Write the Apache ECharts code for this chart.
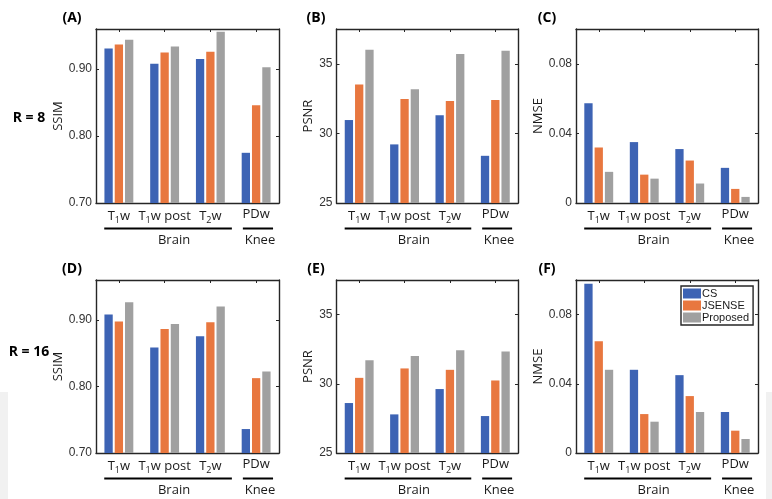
<!DOCTYPE html>
<html>
<head>
<meta charset="utf-8">
<script src="https://cdn.jsdelivr.net/npm/echarts@6/dist/echarts.min.js"></script>
<style>
html,body{margin:0;padding:0;background:#fff;}
#c{width:772px;height:499px;}
</style>
</head>
<body>
<div id="c"></div>
<script>
// ---------- data ----------
const categories = ['T1w', 'T1w post', 'T2w', 'PDw'];
const seriesNames = ['CS', 'JSENSE', 'Proposed'];
const groupLabels = ['Brain', 'Knee'];
const panelLabels = ['(A)', '(B)', '(C)', '(D)', '(E)', '(F)'];
const rowLabels = ['R = 8', 'R = 16'];
const metricNames = ['SSIM', 'PSNR', 'NMSE'];

const ssim8_cs = [0.931, 0.908, 0.915, 0.775];
const ssim8_js = [0.937, 0.925, 0.926, 0.846];
const ssim8_pr = [0.944, 0.934, 0.956, 0.903];
const psnr8_cs = [30.96, 29.21, 31.30, 28.39];
const psnr8_js = [33.51, 32.48, 32.33, 32.40];
const psnr8_pr = [36.01, 33.17, 35.70, 35.94];
const nmse8_cs = [0.0573, 0.0350, 0.0310, 0.0202];
const nmse8_js = [0.0319, 0.0163, 0.0244, 0.0081];
const nmse8_pr = [0.0179, 0.0140, 0.0112, 0.0035];

const ssim16_cs = [0.908, 0.8585, 0.8755, 0.736];
const ssim16_js = [0.8975, 0.8865, 0.8965, 0.8125];
const ssim16_pr = [0.9265, 0.894, 0.920, 0.8225];
const psnr16_cs = [28.61, 27.79, 29.62, 27.67];
const psnr16_js = [30.43, 31.11, 31.01, 30.24];
const psnr16_pr = [31.71, 32.00, 32.43, 32.33];
const nmse16_cs = [0.0979, 0.0481, 0.0450, 0.0237];
const nmse16_js = [0.0646, 0.0225, 0.0329, 0.0129];
const nmse16_pr = [0.0481, 0.0181, 0.0237, 0.0081];

// ---------- styling ----------
const colors = ['#3d63b4', '#e8773f', '#a0a0a0'];
const axisColor = '#262626';
const labelFont = 'Open Sans';
const numFont = 'Liberation Sans';

const panels = [
  {data: [ssim8_cs, ssim8_js, ssim8_pr], min: 0.70, max: 0.96, interval: 0.1, dec: 2, name: metricNames[0], gap: 30},
  {data: [psnr8_cs, psnr8_js, psnr8_pr], min: 25, max: 37.5, interval: 5, dec: 0, name: metricNames[1], gap: 20},
  {data: [nmse8_cs, nmse8_js, nmse8_pr], min: 0, max: 0.1, interval: 0.04, dec: 2, name: metricNames[2], gap: 27},
  {data: [ssim16_cs, ssim16_js, ssim16_pr], min: 0.70, max: 0.96, interval: 0.1, dec: 2, name: metricNames[0], gap: 30},
  {data: [psnr16_cs, psnr16_js, psnr16_pr], min: 25, max: 37.5, interval: 5, dec: 0, name: metricNames[1], gap: 20},
  {data: [nmse16_cs, nmse16_js, nmse16_pr], min: 0, max: 0.1, interval: 0.04, dec: 2, name: metricNames[2], gap: 27}
];
const colLeft = [96, 336.5, 576];
const colWidth = [183, 181.5, 182];
const rowTop = [29, 280];
const rowHeight = [174, 173];

const grids = [], xAxes = [], yAxes = [], series = [];
function fmtCat(v) {
  const m = v.match(/^T(\d)(.*)$/);
  if (m) return '{n|T}{s|' + m[1] + '}{n|' + m[2] + '}';
  return '{n|' + v + '}';
}
panels.forEach((p, i) => {
  const r = Math.floor(i / 3), c = i % 3;
  grids.push({left: colLeft[c], top: rowTop[r], width: colWidth[c], height: rowHeight[r]});
  const lineStyle = {color: axisColor, width: 1.4};
  xAxes.push({
    type: 'category', gridIndex: i, data: categories, position: 'bottom',
    axisLine: {show: true, onZero: false, lineStyle},
    axisTick: {show: true, inside: true, length: 3, alignWithLabel: true, interval: 0, lineStyle: {color: axisColor, width: 1}},
    axisLabel: {
      margin: 5, interval: 0, hideOverlap: false, formatter: fmtCat,
      rich: {
        n: {fontFamily: labelFont, fontSize: 13, color: '#1a1a1a'},
        s: {fontFamily: labelFont, fontSize: 9, color: '#1a1a1a', padding: [8, 0, 0, 0]}
      }
    }
  });
  xAxes.push({
    type: 'category', gridIndex: i, data: categories, position: 'top',
    axisLine: {show: true, onZero: false, lineStyle},
    axisTick: {show: true, inside: true, length: 3, alignWithLabel: true, interval: 0, lineStyle: {color: axisColor, width: 1}},
    axisLabel: {show: false}
  });
  yAxes.push({
    type: 'value', gridIndex: i, min: p.min, max: p.max, interval: p.interval, position: 'left',
    name: p.name, nameLocation: 'middle', nameGap: p.gap,
    nameTextStyle: {fontFamily: labelFont, fontSize: 13, color: '#1a1a1a'},
    axisLine: {show: true, onZero: false, lineStyle},
    axisTick: {show: true, inside: true, length: 3, lineStyle: {color: axisColor, width: 1}},
    splitLine: {show: false},
    axisLabel: {
      margin: 4, showMaxLabel: false, fontFamily: numFont, fontSize: 12, color: '#333',
      formatter: v => (v === 0 ? '0' : v.toFixed(p.dec))
    }
  });
  yAxes.push({
    type: 'value', gridIndex: i, min: p.min, max: p.max, interval: p.interval, position: 'right',
    axisLine: {show: true, onZero: false, lineStyle},
    axisTick: {show: true, inside: true, length: 3, lineStyle: {color: axisColor, width: 1}},
    splitLine: {show: false}, axisLabel: {show: false}
  });
  p.data.forEach((arr, k) => {
    series.push({
      type: 'bar', name: seriesNames[k], xAxisIndex: 2 * i, yAxisIndex: 2 * i,
      data: arr, barWidth: 8.3, barGap: '24%', itemStyle: {color: colors[k]},
      silent: true, animation: false
    });
  });
});

const chart = echarts.init(document.getElementById('c'), null, {renderer: 'canvas'});
chart.setOption({
  animation: false,
  backgroundColor: '#ffffff',
  grid: grids, xAxis: xAxes, yAxis: yAxes, series: series,
  legend: {
    data: seriesNames, orient: 'vertical', left: 681, top: 286,
    itemWidth: 18, itemHeight: 10, itemGap: 1, icon: 'rect',
    padding: [2, 4, 2, 2], borderColor: axisColor, borderWidth: 1.4, backgroundColor: '#fff',
    textStyle: {fontFamily: numFont, fontSize: 11, color: '#1a1a1a', padding: [0, 0, 0, -4]},
    selectedMode: false
  }
});

// ---------- annotations (group lines, panel labels) ----------
const graphics = [];
graphics.push({type: 'rect', shape: {x: 0, y: 392, width: 8, height: 107}, style: {fill: '#f1f1f1'}, silent: true});
graphics.push({type: 'rect', shape: {x: 766, y: 392, width: 6, height: 107}, style: {fill: '#f1f1f1'}, silent: true});
panels.forEach((p, i) => {
  const r = Math.floor(i / 3), c = i % 3;
  const xi = 2 * i;
  const px = name => chart.convertToPixel({xAxisIndex: xi}, name);
  const band = px(categories[1]) - px(categories[0]);
  const bottom = rowTop[r] + rowHeight[r];
  const ly = bottom + 25.5;
  const b0 = px(categories[0]) - 0.32 * band, b1 = px(categories[2]) + 0.47 * band;
  const k0 = px(categories[3]) - 0.29 * band, k1 = px(categories[3]) + 0.37 * band;
  graphics.push({type: 'line', shape: {x1: b0, y1: ly, x2: b1, y2: ly}, style: {stroke: '#000', lineWidth: 2}, silent: true});
  graphics.push({type: 'line', shape: {x1: k0, y1: ly, x2: k1, y2: ly}, style: {stroke: '#000', lineWidth: 2}, silent: true});
  graphics.push({type: 'text', x: (b0 + b1) / 2 + 6, y: bottom + 37, style: {text: groupLabels[0], font: '13px "Open Sans"', fill: '#1a1a1a', textAlign: 'center', textVerticalAlign: 'middle'}, silent: true});
  graphics.push({type: 'text', x: (k0 + k1) / 2 + 2, y: bottom + 37, style: {text: groupLabels[1], font: '13px "Open Sans"', fill: '#1a1a1a', textAlign: 'center', textVerticalAlign: 'middle'}, silent: true});
  const labX = [72, 316, 547][c];
  graphics.push({type: 'text', x: labX, y: rowTop[r] - 11, style: {text: panelLabels[i], font: 'bold 14px "Open Sans"', fill: '#000', textAlign: 'center', textVerticalAlign: 'middle'}, silent: true});
});
graphics.push({type: 'text', x: 29, y: 118, style: {text: rowLabels[0], font: 'bold 14px "Open Sans"', fill: '#000', textAlign: 'center', textVerticalAlign: 'middle'}, silent: true});
graphics.push({type: 'text', x: 29, y: 352, style: {text: rowLabels[1], font: 'bold 14px "Open Sans"', fill: '#000', textAlign: 'center', textVerticalAlign: 'middle'}, silent: true});
chart.setOption({graphic: graphics});
</script>
</body>
</html>
